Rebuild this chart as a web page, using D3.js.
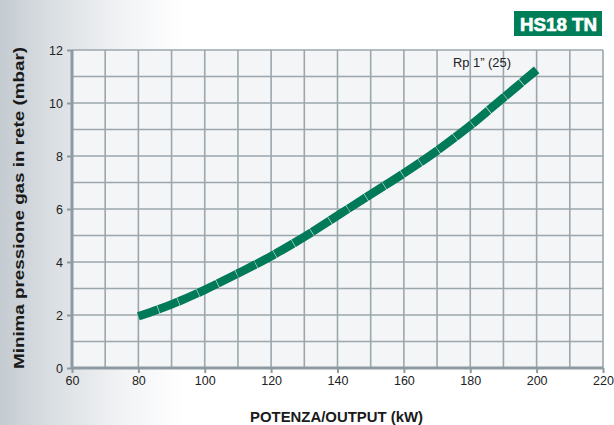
<!DOCTYPE html>
<html><head><meta charset="utf-8">
<script src="https://cdn.jsdelivr.net/npm/d3@7"></script>
<style>body{margin:0;background:#fff}svg{display:block;font-family:"Liberation Sans",Arial,sans-serif}</style>
</head><body>
<svg id="c" width="614" height="425"></svg>
<script>
const power = [80, 90, 100, 110, 120, 130, 140, 150, 160, 170, 180, 190, 200];
const pressure = [1.95, 2.4, 2.95, 3.57, 4.22, 4.95, 5.75, 6.55, 7.35, 8.2, 9.15, 10.2, 11.25];
const xTicks = [60, 80, 100, 120, 140, 160, 180, 200, 220];
const yTicks = [0, 2, 4, 6, 8, 10, 12];
const seriesLabel = "Rp 1\u201D (25)";
const badge = "HS18 TN";

const svg = d3.select("#c");
const defs = svg.append("defs");
const g1 = defs.append("linearGradient").attr("id","bg").attr("x1","0").attr("x2","1").attr("y1","0").attr("y2","0");
g1.append("stop").attr("offset","0").attr("stop-color","#c4cbd1");
g1.append("stop").attr("offset","0.08").attr("stop-color","#d9dee2");
g1.append("stop").attr("offset","0.2").attr("stop-color","#f2f3f5");
g1.append("stop").attr("offset","0.3").attr("stop-color","#ffffff");
svg.append("rect").attr("width",614).attr("height",425).attr("fill","url(#bg)");

const x = d3.scaleLinear().domain([60,220]).range([72,603]);
const y = d3.scaleLinear().domain([0,12]).range([368,50]);

svg.append("rect").attr("x",x(60)).attr("y",y(12)).attr("width",x(220)-x(60)).attr("height",y(0)-y(12)).attr("fill","#f3f5f7");

const grid = svg.append("g").attr("stroke","#9ba7ad").attr("stroke-width",1.6);
grid.selectAll("line.v").data(d3.range(70,221,10)).join("line")
  .attr("x1",d=>x(d)).attr("x2",d=>x(d)).attr("y1",y(0)).attr("y2",y(12));
grid.selectAll("line.h").data(d3.range(1,13,1)).join("line")
  .attr("x1",x(60)).attr("x2",x(220)).attr("y1",d=>y(d)).attr("y2",d=>y(d));

// axes
const xa = svg.append("g").attr("transform",`translate(0,${y(0)})`)
  .call(d3.axisBottom(x).tickValues(xTicks).tickSize(5).tickPadding(3).tickFormat(d3.format("d")));
const ya = svg.append("g").attr("transform",`translate(${x(60)},0)`)
  .call(d3.axisLeft(y).tickValues(yTicks).tickSize(5).tickPadding(4).tickFormat(d3.format("d")));
[xa,ya].forEach(a=>{
  a.select(".domain").attr("stroke","#8d9aa1").attr("stroke-width",3);
  a.selectAll(".tick line").attr("stroke","#8d9aa1").attr("stroke-width",2);
  a.selectAll(".tick text").attr("fill","#222").attr("font-size",12.5).attr("font-family","Liberation Sans, Arial, sans-serif");
});
xa.select(".domain").attr("d",`M${x(60)},0H${x(220)}`);
ya.select(".domain").attr("d",`M0,${y(0)}V${y(12)}`);

// curve
const data = power.map((p,i)=>[p,pressure[i]]);
const line = d3.line().x(d=>x(d[0])).y(d=>y(d[1])).curve(d3.curveMonotoneX);
svg.append("path").attr("d",line(data)).attr("fill","none").attr("stroke","#007a58")
  .attr("stroke-width",8.5).attr("stroke-linecap","butt").attr("stroke-dasharray","21,0.5");

svg.append("text").attr("x",453).attr("y",67).attr("font-size",12).attr("fill","#222")
  .attr("textLength",58).attr("lengthAdjust","spacingAndGlyphs").text(seriesLabel);

// badge
svg.append("rect").attr("x",514).attr("y",11).attr("width",88).attr("height",25).attr("fill","#007e58");
svg.append("text").attr("x",520).attr("y",30.5).attr("font-size",17.5).attr("font-weight","bold").attr("fill","#fff")
  .attr("stroke","#fff").attr("stroke-width",0.6)
  .attr("textLength",77).attr("lengthAdjust","spacingAndGlyphs").text(badge);

// titles
svg.append("text").attr("x",250).attr("y",422).attr("font-size",14.5).attr("font-weight","bold").attr("fill","#1a1a1a")
  .attr("textLength",173).attr("lengthAdjust","spacingAndGlyphs").text("POTENZA/OUTPUT (kW)");
svg.append("text").attr("transform","translate(24,369) rotate(-90)").attr("font-size",15).attr("font-weight","bold").attr("fill","#1a1a1a")
  .attr("textLength",322).attr("lengthAdjust","spacingAndGlyphs").text("Minima pressione gas in rete (mbar)");
</script>
</body></html>
